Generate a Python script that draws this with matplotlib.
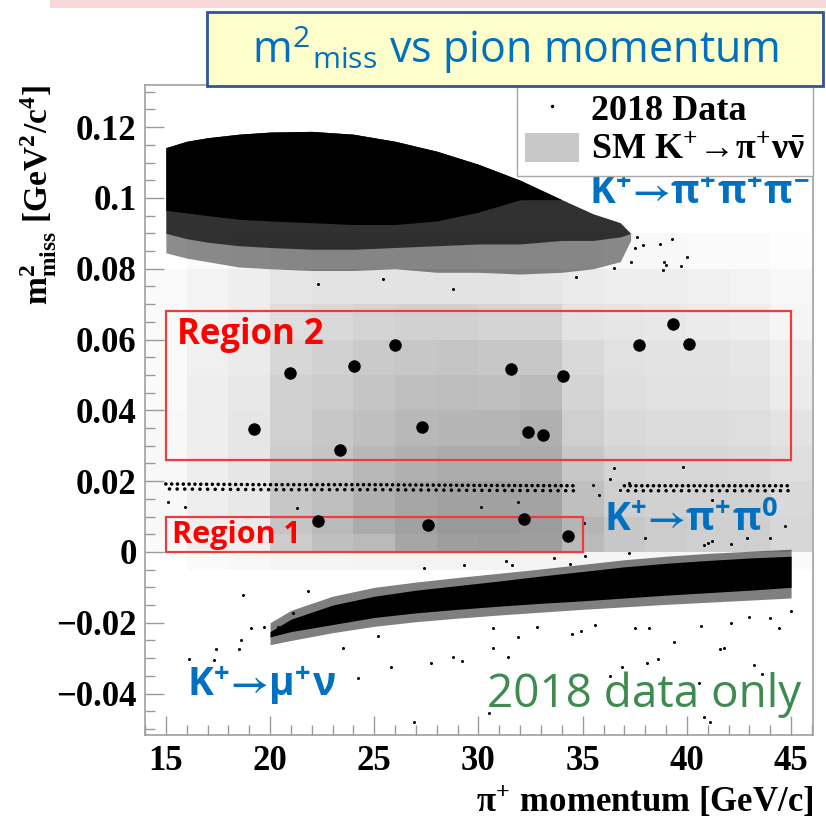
import numpy as np
import matplotlib
matplotlib.use("Agg")
import matplotlib.pyplot as plt
from matplotlib.patches import Rectangle, Patch
from matplotlib.lines import Line2D
from matplotlib.colors import LinearSegmentedColormap
from matplotlib.ticker import MultipleLocator

plt.rcParams['mathtext.fontset'] = 'stix'

SERIF = ['Liberation Serif', 'DejaVu Serif']
SANS = ['Open Sans', 'DejaVu Sans']
BLUE = '#0070c0'

# SM K+ -> pi+ nu nubar expectation, darkness in % per (p, m2miss) cell
sm_p_edges = [14, 16, 18, 20, 22, 24, 26, 28, 30, 32, 34, 36, 38, 40, 42, 44, 46]
sm_m2_edges = [-0.005, 0.0, 0.005, 0.01, 0.02, 0.03, 0.04, 0.05, 0.06, 0.07, 0.08, 0.09]
sm_weight = [
    [0, 2, 3, 4, 4, 5, 5, 5, 5, 5, 4, 4, 4, 4, 3, 2],
    [2, 6, 7, 20, 25, 27, 35, 38, 39, 38, 27, 22, 20, 19, 19, 16],
    [3, 7, 8, 23, 27, 33, 37, 40, 40, 39, 29, 22, 20, 19, 19, 16],
    [3, 7, 9, 22, 25, 31, 35, 37, 37, 36, 25, 19, 18, 18, 18, 15],
    [3, 7, 10, 20, 23, 28, 31, 33, 33, 33, 22, 17, 16, 16, 15, 13],
    [3, 7, 10, 18, 22, 25, 28, 29, 29, 31, 19, 15, 14, 14, 13, 11],
    [2, 7, 9, 18, 20, 23, 25, 26, 25, 27, 17, 13, 12, 12, 11, 8],
    [2, 6, 8, 16, 18, 21, 22, 23, 22, 22, 15, 12, 11, 11, 10, 7],
    [2, 5, 7, 13, 15, 17, 18, 18, 17, 17, 11, 10, 9, 8, 7, 4],
    [2, 5, 7, 10, 11, 11, 11, 11, 11, 10, 8, 7, 7, 6, 5, 3],
    [0, 2, 3, 4, 5, 5, 5, 5, 4, 4, 4, 3, 3, 2, 2, 1],
]

# K+ -> pi+ pi+ pi- band envelope
kppp_p = [15, 16, 17, 18.5, 20, 22, 24, 26, 28, 30, 32, 34, 35.5, 36.8, 37.3]
kppp_high = [0.1142, 0.1160, 0.1170, 0.1180, 0.1186, 0.1188, 0.1180, 0.1160, 0.1132,
             0.1095, 0.1050, 0.0995, 0.0955, 0.0930, 0.0900]
kppp_core = [0.0965, 0.0958, 0.0950, 0.0940, 0.0935, 0.0930, 0.0925, 0.0925, 0.0935,
             0.0960, 0.0995, 0.0995, 0.0955, 0.0930, 0.0900]
kppp_dense = [0.0900, 0.0885, 0.0875, 0.0865, 0.0860, 0.0855, 0.0855, 0.0860, 0.0865,
              0.0870, 0.0870, 0.0880, 0.0880, 0.0890, 0.0900]
kppp_sparse = [0.0845, 0.0830, 0.0820, 0.0805, 0.0800, 0.0795, 0.0795, 0.0800, 0.0790,
               0.0790, 0.0785, 0.0790, 0.0800, 0.0820, 0.0880]

# K+ -> pi+ pi0 band
kpi0_p = [15, 20, 25, 30, 34.8, np.nan, 37.0, 40, 45]
kpi0_m2 = [0.0185, 0.0183, 0.0183, 0.0181, 0.0180, np.nan, 0.0180, 0.0180, 0.0180]

# K+ -> mu+ nu band envelope
kmu_p = [20, 21, 23, 25, 27, 29, 31, 33, 35, 37, 39, 41, 43, 45]
kmu_high = [-0.0200, -0.0165, -0.0125, -0.0100, -0.0085, -0.0072, -0.0060, -0.0048,
            -0.0035, -0.0022, -0.0012, -0.0004, 0.0002, 0.0008]
kmu_core_high = [-0.0225, -0.0190, -0.0150, -0.0125, -0.0108, -0.0095, -0.0082, -0.0068,
                 -0.0055, -0.0042, -0.0032, -0.0024, -0.0017, -0.0012]
kmu_core_low = [-0.0240, -0.0225, -0.0205, -0.0185, -0.0172, -0.0162, -0.0153, -0.0145,
                -0.0138, -0.0130, -0.0122, -0.0115, -0.0108, -0.0100]
kmu_low = [-0.0262, -0.0250, -0.0228, -0.0210, -0.0197, -0.0187, -0.0178, -0.0170,
           -0.0162, -0.0155, -0.0148, -0.0142, -0.0136, -0.0130]

# isolated background events outside the dense bands
bg_p = [16.1, 17.3, 17.4, 18.5, 18.6, 19.1, 19.7, 20.4, 21.1, 18.7, 21.8, 23.5, 24.2, 25.8,
        25.2, 26.9, 27.7, 28.8, 29.2, 31.4, 31.9, 30.7, 30.7, 32.8, 34.5, 34.9, 35.6, 36.9,
        37.5, 38.2, 39.4, 38.6, 40.7, 41.6, 41.8, 43.2, 44.4, 42.1, 43.0, 44.0, 45.0,
        40.8, 41.1, 30.5, 40.6, 42.2, 43.6, 36.3, 38.1,
        27.4, 29.3, 31.3, 31.6, 33.6, 34.4, 35.1, 37.2,
        36.5, 39.8, 35.05, 38.0, 44.7, 30.1, 31.9, 41.2, 40.8, 41.0, 41.2, 42.1, 42.9, 44.0,
        15.1, 15.9, 21.3,
        35.5, 35.8, 36.3, 36.8, 37.2,
        22.3, 25.4, 28.8, 34.7, 36.5, 37.3, 37.6, 37.9, 38.7, 39.3, 40.0, 39.7, 38.9, 39.0,
        38.85, 37.5]
bg_m2 = [-0.0302, -0.0305, -0.0275, -0.0275, -0.0249, -0.0215, -0.0211, -0.0211, -0.0171,
         -0.0122, -0.0111, -0.0272, -0.0357, -0.0326, -0.0237, -0.0481, -0.0314, -0.0298,
         -0.0307, -0.0297, -0.0239, -0.0214, -0.0272, -0.0211, -0.0232, -0.0223, -0.0206,
         -0.0324, -0.0215, -0.0214, -0.0253, -0.0303, -0.0209, -0.0275, -0.0272, -0.0319,
         -0.0214, -0.0201, -0.0183, -0.0187, -0.0166,
         -0.0465, -0.0480, -0.0455, -0.0370, -0.0385, -0.0345, -0.0350, -0.0315,
         -0.0046, -0.0037, -0.0025, -0.0037, -0.0018, -0.0035, -0.0010, -0.0004,
         0.0236, 0.0241, 0.0083, 0.0040, 0.0073, 0.0128, 0.0142, 0.0147, 0.0020, 0.0025,
         0.0032, 0.0022, 0.0039, 0.0039,
         0.0141, 0.0127, 0.0124,
         0.0190, 0.0160, 0.0205, 0.0175, 0.0195,
         0.0757, 0.0770, 0.0743, 0.0778, 0.0801, 0.0820, 0.0890, 0.0867, 0.0869, 0.0883,
         0.0834, 0.0809, 0.0820, 0.0810, 0.0796, 0.0858]

# candidate events in the signal regions
cand_p = [19.24, 20.98, 23.37, 24.03, 25.99, 27.31, 31.56, 32.36, 33.08, 34.04, 37.68,
          39.34, 40.11, 22.28, 27.59, 32.17, 34.28]
cand_m2 = [0.0347, 0.0505, 0.0289, 0.0526, 0.0584, 0.0354, 0.0517, 0.0340, 0.0331, 0.0497,
           0.0584, 0.0643, 0.0587, 0.0088, 0.0076, 0.0092, 0.0046]

# signal regions: (p_min, p_max, m2_min, m2_max)
region1 = (15, 35, 0.0, 0.010)
region2 = (15, 45, 0.026, 0.068)

xticks = [15, 20, 25, 30, 35, 40, 45]
yticks = [-0.04, -0.02, 0, 0.02, 0.04, 0.06, 0.08, 0.1, 0.12]
ytick_labels = ['\u22120.04', '\u22120.02', '0', '0.02', '0.04', '0.06', '0.08', '0.1', '0.12']

W, H = 826, 819
fig = plt.figure(figsize=(W / 100, H / 100), dpi=100)
ax = fig.add_axes([145 / W, 1 - 735 / H, (813 - 145) / W, (735 - 85) / H])

# SM expectation as grey 2D histogram
white_black = LinearSegmentedColormap.from_list('wb', ['white', 'black'])
ax.pcolormesh(sm_p_edges, sm_m2_edges, np.array(sm_weight), cmap=white_black,
              vmin=0, vmax=100, shading='flat', edgecolors='face', linewidth=0,
              antialiased=False, zorder=0)

# background bands
ax.fill_between(kppp_p, kppp_sparse, kppp_high, color='k', alpha=0.45, lw=0, zorder=2)
ax.fill_between(kppp_p, kppp_dense, kppp_high, color='k', alpha=0.65, lw=0, zorder=2)
ax.fill_between(kppp_p, kppp_core, kppp_high, color='k', lw=0, zorder=2)

ax.fill_between(kmu_p, kmu_low, kmu_high, color='k', alpha=0.5, lw=0, zorder=2)
ax.fill_between(kmu_p, kmu_core_low, kmu_core_high, color='k', lw=0, zorder=2)

kpi0_m2 = np.array(kpi0_m2)
ax.plot(kpi0_p, kpi0_m2 + 0.0007, color='k', lw=2.6, ls=(0, (0.01, 1.6)),
        dash_capstyle='round', zorder=2)
ax.plot(kpi0_p, kpi0_m2 - 0.0007, color='k', lw=2.6, ls=(1.1, (0.01, 2.1)),
        dash_capstyle='round', zorder=2)

ax.plot(bg_p, bg_m2, ls='none', marker='o', ms=2.2, mec='none', color='k', zorder=2)

# signal regions
for p0, p1, m0, m1 in (region1, region2):
    ax.add_patch(Rectangle((p0, m0), p1 - p0, m1 - m0, fill=False,
                           edgecolor='#ee3b3b', lw=1.6, zorder=3))
ax.text(15.55, 0.0613, 'Region 2', color='#ff0000', fontsize=25, fontweight='bold',
        family=SANS, ha='left', va='center', zorder=4)
ax.text(15.3, 0.0048, 'Region 1', color='#ff0000', fontsize=22, fontweight='bold',
        family=SANS, ha='left', va='center', zorder=4)

ax.plot(cand_p, cand_m2, ls='none', marker='o', ms=9, mec='none', color='k', zorder=4)

# decay labels (arrow typed as a glyph so mathtext adds no relation spacing)
arrow = '$\\mathbf{\u2192}$'
ax.text(35.3, 0.1012, 'K$^{\\mathregular{+}}$' + arrow + '\u03c0$^{\\mathregular{+}}$\u03c0$^{\\mathregular{+}}$\u03c0$^{\\mathregular{\u2212}}$',
        color=BLUE, fontsize=28, fontweight='bold', family=SANS, ha='left', va='center', zorder=5)
ax.text(36.0, 0.0088, 'K$^{\\mathregular{+}}$' + arrow + '\u03c0$^{\\mathregular{+}}$\u03c0$^{\\mathregular{0}}$',
        color=BLUE, fontsize=28, fontweight='bold', family=SANS, ha='left', va='center', zorder=5)
ax.text(16.0, -0.0378, 'K$^{\\mathregular{+}}$' + arrow + '\u03bc$^{\\mathregular{+}}$\u03bd',
        color=BLUE, fontsize=28, fontweight='bold', family=SANS, ha='left', va='center', zorder=5)
ax.text(45.5, -0.0404, '2018 data only', color='#3d8b4f', fontsize=33, family=SANS,
        ha='right', va='center', zorder=5)

# legend
handles = [Line2D([], [], ls='none', marker='o', ms=2.5, mec='none', color='k'),
           Patch(facecolor='#c8c8c8', edgecolor='none')]
labels = ['2018 Data', 'SM K$^{\\mathregular{+}}$\u2192\u03c0$^{\\mathregular{+}}$\u03bd$\\bar{\\mathregular{\u03bd}}$']
leg = ax.legend(handles, labels, loc='upper right', bbox_to_anchor=(1, 1), borderaxespad=0,
                frameon=True, fancybox=False, framealpha=1, edgecolor='#a8a8a8',
                handlelength=1.5, handleheight=0.85, handletextpad=0.33, borderpad=0.22,
                labelspacing=0.15, prop=dict(family=SERIF, weight='bold', size=26))
leg.get_frame().set_linewidth(1.0)
leg.set_zorder(6)

# axes cosmetics
ax.set_xlim(14, 46.05)
ax.set_ylim(-0.0517, 0.1319)
ax.set_xticks(xticks)
ax.set_xticklabels([str(v) for v in xticks])
ax.set_yticks(yticks)
ax.set_yticklabels(ytick_labels)
ax.xaxis.set_minor_locator(MultipleLocator(1))
ax.yaxis.set_minor_locator(MultipleLocator(0.005))
ax.tick_params(which='both', direction='in', color='#9a9a9a', width=1.0,
               top=False, right=False)
ax.tick_params(which='major', length=14)
ax.tick_params(which='minor', length=7)
ax.tick_params(axis='x', pad=7)
ax.tick_params(axis='y', pad=6)
for lab in ax.get_xticklabels() + ax.get_yticklabels():
    lab.set_family(SERIF)
    lab.set_fontweight('bold')
    lab.set_fontsize(25)
for sp in ax.spines.values():
    sp.set_color('#a0a0a0')
    sp.set_linewidth(1.2)

ax.set_xlabel('\u03c0$^{\\mathregular{+}}$ momentum [GeV/c]', family=SERIF, fontweight='bold',
              fontsize=25, ha='right', va='top')
ax.xaxis.set_label_coords(1.0, -0.075)
ax.set_ylabel('m$^{\\mathregular{2}}_{\\mathregular{miss}}$ [GeV$^{\\mathregular{2}}$/c$^{\\mathregular{4}}$]',
              family=SERIF, fontweight='bold', fontsize=24, ha='right', va='bottom')
ax.yaxis.set_label_coords(-0.128, 1.0)

# slide decorations: pink strip and title box
fig.add_artist(Rectangle((50 / W, 1 - 8 / H), 776 / W, 8 / H, transform=fig.transFigure,
                         facecolor='#f8d8d8', edgecolor='none', zorder=5))
fig.add_artist(Rectangle((207 / W, 1 - 86 / H), (823 - 207) / W, (86 - 12) / H,
                         transform=fig.transFigure, facecolor='#ffffcc',
                         edgecolor='#2f5597', lw=2, zorder=5))
fig.text(516 / W, 1 - 50 / H, 'm$^{\\mathregular{2}}$$_{\\mathregular{miss}}$ vs pion momentum',
         color=BLUE, fontsize=31, family=SANS, ha='center', va='center', zorder=6)

fig.savefig('out.png', dpi=100)
